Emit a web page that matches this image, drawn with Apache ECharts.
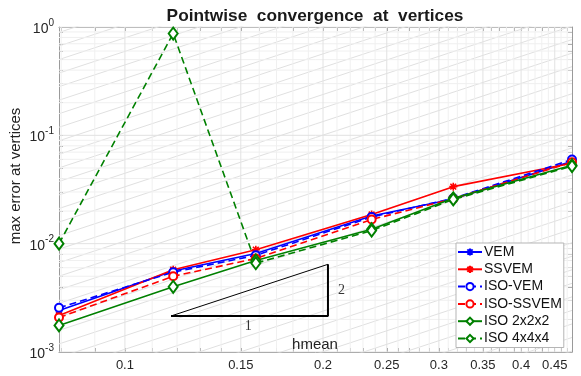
<!DOCTYPE html>
<html>
<head>
<meta charset="utf-8">
<script src="https://cdn.jsdelivr.net/npm/echarts@6/dist/echarts.min.js"></script>
<style>
  html, body { margin: 0; padding: 0; background: #fff; }
  #chart { width: 581px; height: 376px; }
</style>
</head>
<body>
<div id="chart"></div>
<script>
// Mean mesh size of each refinement level
const hmean = [0.0794, 0.1184, 0.1581, 0.2371, 0.3155, 0.478];

// Max error at vertices for each method
const vem      = [0.00242, 0.00560, 0.0081, 0.0180, 0.0258, 0.0575];
const ssvem    = [0.00217, 0.00575, 0.0088, 0.0186, 0.0336, 0.0552];
const isoVem   = [0.00256, 0.00545, 0.0078, 0.0176, 0.0262, 0.0598];
const isoSsvem = [0.00208, 0.00500, 0.0073, 0.0167, 0.0260, 0.0565];
const iso222   = [0.00176, 0.00400, 0.0070, 0.0136, 0.0262, 0.0530];
const iso444   = [0.0100, 0.870, 0.0066, 0.0132, 0.0256, 0.0520];

// Axis ticks
const xTicks = [0.1, 0.15, 0.2, 0.25, 0.3, 0.35, 0.4, 0.45];
const xTickLabels = ['0.1', '0.15', '0.2', '0.25', '0.3', '0.35', '0.4', '0.45'];
const yTicks = [0.001, 0.01, 0.1, 1];

// Slope-2 triangle: corner coordinates and side labels
const triX = [0.1175, 0.2035];
const triY = [0.00215, 0.00645];
const triLabelRun = [0.154, 0.00215];
const triLabelRise = [0.2035, 0.00373];

const FONT = 'Liberation Sans, Arial, Helvetica, sans-serif';
const BLUE = '#0000ff', RED = '#ff0000', GREEN = '#008000';
const AXIS_COLOR = '#9a9a9a';
const STAR = 'path://M0,-5L0,5M-5,0L5,0M-3.6,-3.6L3.6,3.6M-3.6,3.6L3.6,-3.6';

const xMin = hmean[0], xMax = hmean[hmean.length - 1];
const yMin = 0.001, yMax = 1;

// minor tick positions
const xMinor = [];
for (let k = 8; k <= 47; k++) {
  const v = +(k / 100).toFixed(2);
  if (v >= xMin && v <= xMax && xTicks.indexOf(v) < 0) xMinor.push(v);
}
const yMinor = [];
for (let d = -3; d < 0; d++) {
  for (let m = 2; m <= 9; m++) yMinor.push(m * Math.pow(10, d));
}

const series = [];

function segment(points, color, width, z, type) {
  series.push({
    type: 'line', data: points, silent: true, symbol: 'none', z: z,
    animation: false, clip: true,
    lineStyle: { color: color, width: width, type: type || 'solid' }
  });
}

// background h^2 guide lines
for (let e = -2.6; e <= 2.4; e += 1 / 8) {
  const c = Math.pow(10, e);
  segment([[xMin, c * xMin * xMin], [xMax, c * xMax * xMax]], '#e0e0e0', 1, 0);
}
// grid lines
xMinor.forEach(v => segment([[v, yMin], [v, yMax]], '#f0f0f0', 1, 0));
yMinor.forEach(v => segment([[xMin, v], [xMax, v]], '#f0f0f0', 1, 0));
xTicks.forEach(v => segment([[v, yMin], [v, yMax]], '#e2e2e2', 1, 0));
yTicks.forEach(v => segment([[xMin, v], [xMax, v]], '#e2e2e2', 1, 0));

// triangle
segment([[triX[0], triY[0]], [triX[1], triY[0]], [triX[1], triY[1]]], '#000', 2, 3);
segment([[triX[0], triY[0]], [triX[1], triY[1]]], '#000', 1, 3);
series.push({
  type: 'scatter', silent: true, symbolSize: 0, z: 3, animation: false,
  data: [
    { value: triLabelRun, label: { formatter: '1', position: 'bottom', distance: 3 } },
    { value: triLabelRise, label: { formatter: '2', position: 'right', distance: 10 } }
  ],
  label: { show: true, fontFamily: 'Liberation Serif, Times New Roman, serif', fontSize: 14, color: '#000' }
});

function dataSeries(name, values, color, dashed, symbol, size) {
  const isStar = symbol === STAR;
  series.push({
    name: name, type: 'line', z: 5, animation: false,
    data: hmean.map((h, i) => [h, values[i]]),
    color: color,
    symbol: symbol, symbolSize: size, showSymbol: true,
    lineStyle: { color: color, width: 1.6, type: dashed ? [7, 4] : 'solid' },
    itemStyle: isStar
      ? { color: color, borderColor: color, borderWidth: 1.6 }
      : { color: color, borderWidth: 1.5 }
  });
}

dataSeries('VEM', vem, BLUE, false, STAR, 8);
dataSeries('SSVEM', ssvem, RED, false, STAR, 8);
dataSeries('ISO-VEM', isoVem, BLUE, true, 'emptyCircle', 8);
dataSeries('ISO-SSVEM', isoSsvem, RED, true, 'emptyCircle', 8);
dataSeries('ISO 2x2x2', iso222, GREEN, false, 'emptyDiamond', [9, 12]);
dataSeries('ISO 4x4x4', iso444, GREEN, true, 'emptyDiamond', [9, 12]);

const legendNames = ['VEM', 'SSVEM', 'ISO-VEM', 'ISO-SSVEM', 'ISO 2x2x2', 'ISO 4x4x4'];

const tickStyle = { inside: true, length: 4, lineStyle: { color: AXIS_COLOR, width: 1 } };

const option = {
  backgroundColor: '#fff',
  animation: false,
  textStyle: { fontFamily: FONT },
  title: {
    text: 'Pointwise  convergence  at  vertices',
    left: 310, top: 3, textAlign: 'center',
    textStyle: { fontFamily: FONT, fontSize: 17.3, fontWeight: 'bold', color: '#1a1a1a' }
  },
  grid: { left: 59, right: 9, top: 27, bottom: 24, containLabel: false, outerBoundsMode: 'none' },
  legend: {
    data: legendNames,
    orient: 'vertical',
    left: 456, top: 243,
    padding: [2, 2, 2, 1],
    itemWidth: 24, itemHeight: 9, itemGap: 3.3,
    backgroundColor: '#fff',
    borderColor: '#b5b5b5', borderWidth: 1, borderRadius: 0,
    textStyle: { fontFamily: FONT, fontSize: 14, color: '#111', lineHeight: 14, padding: [0, 0, 0, -3] }
  },
  xAxis: [
    {
      type: 'log', logBase: 10, min: xMin, max: xMax, position: 'bottom',
      axisLine: { lineStyle: { color: AXIS_COLOR } },
      axisTick: Object.assign({ customValues: xTicks.concat(xMinor) }, tickStyle),
      axisLabel: {
        customValues: xTicks, margin: 7,
        fontFamily: FONT, fontSize: 13, color: '#262626',
        formatter: v => { const i = xTicks.findIndex(t => Math.abs(t - v) < 1e-9); return i >= 0 ? xTickLabels[i] : ''; }
      },
      splitLine: { show: false }, minorTick: { show: false }
    },
    {
      type: 'log', logBase: 10, min: xMin, max: xMax, position: 'top',
      axisLine: { lineStyle: { color: AXIS_COLOR } },
      axisTick: Object.assign({ customValues: xTicks.concat(xMinor) }, tickStyle),
      axisLabel: { show: false }, splitLine: { show: false }
    }
  ],
  yAxis: [
    {
      type: 'log', logBase: 10, min: yMin, max: yMax, position: 'left',
      axisLine: { lineStyle: { color: AXIS_COLOR } },
      axisTick: Object.assign({ customValues: yTicks.concat(yMinor) }, tickStyle),
      axisLabel: {
        customValues: yTicks, margin: 5,
        formatter: v => '{b|10}{s|' + Math.round(Math.log10(v)) + '}',
        rich: {
          b: { fontFamily: FONT, fontSize: 14, lineHeight: 18, color: '#262626', verticalAlign: 'bottom' },
          s: { fontFamily: FONT, fontSize: 10, lineHeight: 12, color: '#262626', verticalAlign: 'top' }
        }
      },
      splitLine: { show: false }
    },
    {
      type: 'log', logBase: 10, min: yMin, max: yMax, position: 'right',
      axisLine: { lineStyle: { color: AXIS_COLOR } },
      axisTick: Object.assign({ customValues: yTicks.concat(yMinor) }, tickStyle),
      axisLabel: { show: false }, splitLine: { show: false }
    }
  ],
  graphic: [
    {
      type: 'text', x: 16, y: 176, rotation: Math.PI / 2,
      style: {
        text: 'max error at vertices', fontFamily: FONT, fontSize: 15, fill: '#222',
        align: 'center', verticalAlign: 'middle'
      }
    },
    {
      type: 'text', x: 315, y: 345, z: 10,
      style: {
        text: 'hmean', fontFamily: FONT, fontSize: 15, fill: '#222',
        align: 'center', verticalAlign: 'middle'
      }
    }
  ],
  series: series
};

const chart = echarts.init(document.getElementById('chart'), null, { renderer: 'canvas' });
chart.setOption(option);
</script>
</body>
</html>
